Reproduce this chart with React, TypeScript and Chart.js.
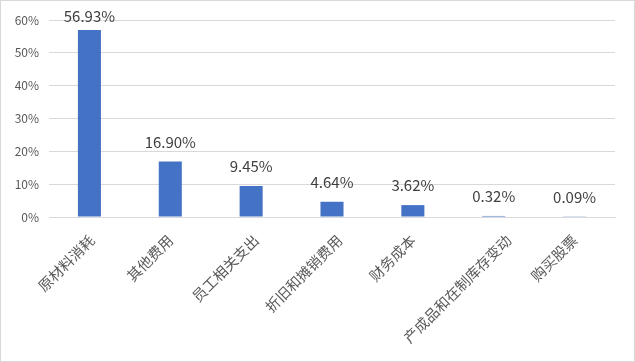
import React, { useEffect, useRef } from "react";
import { Chart, registerables } from "chart.js";

Chart.register(...registerables);

const categories = ["原材料消耗", "其他费用", "员工相关支出", "折旧和摊销费用", "财务成本", "产成品和在制库存变动", "购买股票"];
const values = [56.93, 16.9, 9.45, 4.64, 3.62, 0.32, 0.09];
const yTicks = [0, 10, 20, 30, 40, 50, 60];

const FONT = "'Noto Sans CJK SC', 'Noto Sans', sans-serif";

const labelPlugin = {
  id: "valueLabels",
  afterDatasetsDraw(chart: any) {
    const ctx = chart.ctx;
    const meta = chart.getDatasetMeta(0);
    ctx.save();
    ctx.font = `15px ${FONT}`;
    ctx.fillStyle = "#404040";
    ctx.textAlign = "center";
    ctx.textBaseline = "alphabetic";
    meta.data.forEach((bar: any, i: number) => {
      const y = Math.max(bar.y - 14, chart.chartArea.top + 2);
      ctx.fillText(values[i].toFixed(2) + "%", bar.x, y);
    });
    ctx.restore();
  },
};

// Category labels drawn at 45°, anchored like the spreadsheet renderer does
const xLabelPlugin = {
  id: "xLabels",
  afterDraw(chart: any) {
    const ctx = chart.ctx;
    const xs = chart.scales.x;
    ctx.save();
    ctx.font = `14.5px ${FONT}`;
    ctx.fillStyle = "#595959";
    ctx.textAlign = "right";
    ctx.textBaseline = "middle";
    categories.forEach((label, i) => {
      const n = label.length;
      const cx = xs.getPixelForValue(i);
      const ax = cx + 2.5 * n - 10;
      const ay = chart.chartArea.bottom + 20.5;
      ctx.save();
      ctx.translate(ax, ay);
      ctx.rotate(-Math.PI / 4);
      ctx.fillText(label, 0, 0);
      ctx.restore();
    });
    ctx.restore();
  },
};

const borderPlugin = {
  id: "outerBorder",
  afterDraw(chart: any) {
    const ctx = chart.ctx;
    ctx.save();
    ctx.strokeStyle = "#d9d9d9";
    ctx.lineWidth = 1;
    ctx.strokeRect(0.5, 0.5, chart.width - 1, chart.height - 1);
    ctx.restore();
  },
};

export default function App() {
  const ref = useRef<HTMLCanvasElement>(null);
  useEffect(() => {
    document.body.style.margin = "0";
    const chart = new Chart(ref.current as HTMLCanvasElement, {
      type: "bar",
      data: {
        labels: categories,
        datasets: [
          {
            data: values,
            backgroundColor: "#4472C4",
            categoryPercentage: 1,
            barPercentage: 0.285,
          },
        ],
      },
      options: {
        animation: false,
        responsive: false,
        layout: { padding: { top: 20, right: 20, left: 0, bottom: 0 } },
        plugins: { legend: { display: false }, tooltip: { enabled: false } },
        scales: {
          x: {
            grid: { display: false, drawTicks: false },
            border: { color: "#d9d9d9" },
            ticks: { display: false },
            afterFit(scale: any) {
              scale.height = 145;
            },
          },
          y: {
            min: 0,
            max: 60,
            afterBuildTicks(scale: any) {
              scale.ticks = yTicks.map((v) => ({ value: v }));
            },
            grid: { color: "#d9d9d9", drawTicks: false },
            border: { display: false },
            ticks: {
              color: "#595959",
              font: { family: FONT, size: 12 },
              padding: 10,
              callback: (v: any) => v + "%",
            },
            afterFit(scale: any) {
              scale.width = 49;
            },
          },
        },
      },
      plugins: [labelPlugin, xLabelPlugin, borderPlugin],
    });
    return () => chart.destroy();
  }, []);
  return <canvas ref={ref} width={635} height={362} style={{ display: "block" }} />;
}
